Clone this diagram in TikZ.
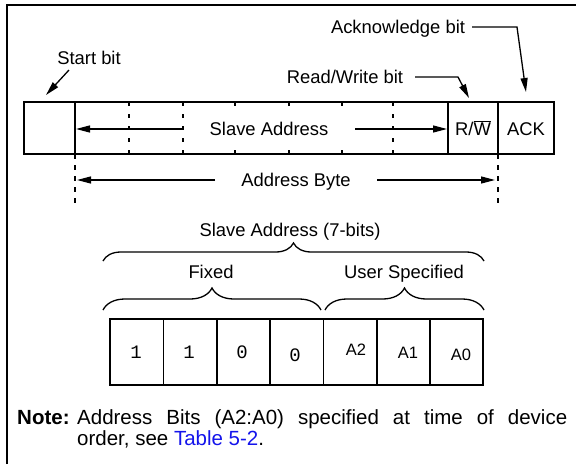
\documentclass[tikz,border=0pt]{standalone}
\usepackage{fontspec}
\setmainfont{Liberation Sans}
\newfontfamily\digitfont{Liberation Mono}
\usetikzlibrary{arrows.meta,decorations.pathreplacing}
\definecolor{linkblue}{RGB}{20,20,235}
\begin{document}
\begin{tikzpicture}[x=1pt,y=-1pt,
  lbl/.style={inner sep=0pt,font=\fontsize{18.4}{22}\selectfont,text height=13.2pt,text depth=0pt},
  alb/.style={inner sep=0pt,font=\fontsize{16.5}{19}\selectfont,text height=11.8pt,text depth=0pt},
  dig/.style={inner sep=0pt,font=\digitfont\fontsize{19}{22}\selectfont,text height=12pt,text depth=0pt},
  notefont/.style={inner sep=0pt,font=\fontsize{20.5}{22}\selectfont},
  boxln/.style={line width=1.8pt},
  arr/.style={line width=1.3pt,-{Triangle[length=14pt,width=7pt]}},
  dshin/.style={line width=1.6pt,dash pattern=on 4pt off 8pt},
  dshout/.style={line width=1.6pt,dash pattern=on 5pt off 6pt},
  cell/.style={draw,line width=1.8pt,minimum width=53.3pt,minimum height=66pt,inner sep=0pt,anchor=north west},
  brc/.style={line width=1.3pt,decorate,decoration={brace,amplitude=#1}},
]
\useasboundingbox (0,0) rectangle (576,464);
% frame
\draw[line width=2pt] (7,464) -- (7,5) -- (576,5);

% top byte box
\coordinate (tl) at (24,102);
\coordinate (br) at (554,154);
\draw[boxln] (tl) rectangle (br);
\foreach \x in {75,448,498} \draw[boxln] (\x,102) -- (\x,154);
\foreach \x in {129,183,235,289,342,393} \draw[dshin] (\x,102) -- (\x,154);

% Slave Address inside
\fill[white] (196,111) rectangle (350,147);
\node[lbl] (sa) at (269,129) {Slave Address};
\coordinate (saL0) at (183,129);
\coordinate (saL1) at (76,129);
\coordinate (saR0) at (355,129);
\coordinate (saR1) at (447,129);
\draw[arr] (saL0) -- (saL1);
\draw[arr] (saR0) -- (saR1);
\node[lbl] (rw) at (473,129) {R/$\overline{\hbox{W}}$};
\node[lbl] (ack) at (526,129) {ACK};

% labels above
\node[lbl] (ackl) at (398,27) {Acknowledge bit};
\coordinate (ack0) at (472,27);
\coordinate (ack1) at (517,27);
\coordinate (ack2) at (526,92);
\draw[arr] (ack0) -- (ack1) -- (ack2);

\node[lbl] (rwl) at (345,77) {Read/Write bit};
\coordinate (rw0) at (415,77);
\coordinate (rw1) at (458,77);
\coordinate (rw2) at (469,98);
\draw[arr] (rw0) -- (rw1) -- (rw2);

\node[lbl] (stl) at (89,58) {Start bit};
\coordinate (st0) at (69,70);
\coordinate (st1) at (46,95);
\draw[arr] (st0) -- (st1);

% Address byte
\draw[dshout] (75,154) -- (75,208);
\draw[dshout] (498,154) -- (498,208);
\node[lbl] (ab) at (296,180) {Address Byte};
\coordinate (abL0) at (215,180);
\coordinate (abL1) at (77,180);
\coordinate (abR0) at (377,180);
\coordinate (abR1) at (495,180);
\draw[arr] (abL0) -- (abL1);
\draw[arr] (abR0) -- (abR1);

% Slave address 7 bits
\node[lbl] (sa7) at (290,230) {Slave Address (7-bits)};
\coordinate (bb0) at (103,261);
\coordinate (bb1) at (484,261);
\draw[brc=18pt] (bb0) -- (bb1);
\node[lbl] (fx) at (211,272) {Fixed};
\node[lbl] (us) at (404,272) {User Specified};
\coordinate (fb0) at (103,310);
\coordinate (fb1) at (321,310);
\coordinate (ub0) at (325,310);
\coordinate (ub1) at (484,310);
\draw[brc=22pt] (fb0) -- (fb1);
\draw[brc=22pt] (ub0) -- (ub1);

% bit cells
\foreach \i in {0,...,6} \node[cell] (c\i) at (109.3+\i*53.3,318) {};
\node[dig] (d0) at (136,352) {1};
\node[dig] (d1) at (189,352) {1};
\node[dig] (d2) at (242,352) {0};
\node[dig] (d3) at (295,355) {0};
\node[alb] (a2) at (356,350) {A2};
\node[alb] (a1) at (408,353) {A1};
\node[alb] (a0) at (461,355) {A0};

% note
\node[notefont,anchor=base west] (nt) at (17,424.3) {\textbf{Note:}};
\node[notefont,anchor=base west] (n1) at (77,424.3) {\makebox[490pt][s]{Address Bits (A2:A0) specified at time of device}};
\node[notefont,anchor=base west] (n2) at (77,445) {order, see \textcolor{linkblue}{Table 5-2}.};
\end{tikzpicture}
\end{document}
